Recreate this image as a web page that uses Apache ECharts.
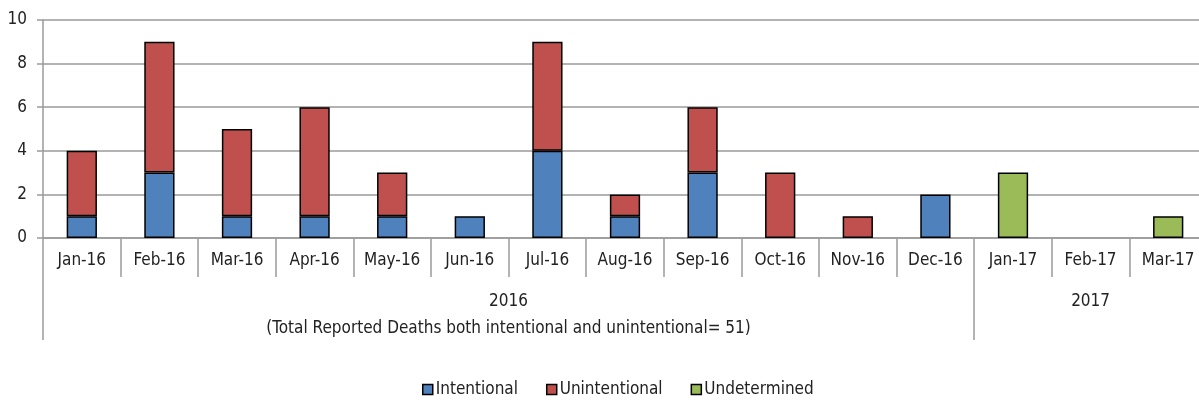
<!DOCTYPE html>
<html>
<head>
<meta charset="utf-8">
<script src="https://cdn.jsdelivr.net/npm/echarts@6/dist/echarts.min.js"></script>
<style>
html,body{margin:0;padding:0;background:#fff;overflow:hidden;width:1199px;height:400px;}
#c{width:1207px;height:400px;}
</style>
</head>
<body>
<div id="c"></div>
<script>
var categories = ['Jan-16','Feb-16','Mar-16','Apr-16','May-16','Jun-16','Jul-16','Aug-16','Sep-16','Oct-16','Nov-16','Dec-16','Jan-17','Feb-17','Mar-17'];
var intentional   = [1,3,1,1,1,1,4,1,3,0,0,2,0,0,0];
var unintentional = [3,6,4,5,2,0,5,1,3,3,1,0,0,0,0];
var undetermined  = [0,0,0,0,0,0,0,0,0,0,0,0,3,0,1];
var yTicks = [0,2,4,6,8,10];
var groupLabels = ['2016','(Total Reported Deaths both intentional and unintentional= 51)','2017'];

var FONT = '"Liberation Sans Narrow","Arial Narrow","DejaVu Sans Condensed",sans-serif';
var TXT = '#222';
var AX = '#9a9a9a';
function nz(a){return a.map(function(v){return v===0?null:v;});}

var chart = echarts.init(document.getElementById('c'));
var barStyle = function(c){return {color:c,borderColor:'#000',borderWidth:1.5};};
chart.setOption({
  animation:false,
  textStyle:{fontFamily:FONT},
  grid:{left:43,top:20,right:0,height:218,containLabel:false},
  legend:{
    left:422,bottom:2,padding:0,itemWidth:10,itemHeight:10,itemGap:28,
    icon:'rect',
    textStyle:{fontFamily:FONT,fontSize:17,color:TXT,padding:[0,0,0,-2]},
    itemStyle:{borderColor:'#000',borderWidth:1.5},
    data:['Intentional','Unintentional','Undetermined']
  },
  xAxis:[{
    type:'category',data:categories,position:'bottom',
    axisLine:{lineStyle:{color:AX,width:1.5}},
    axisTick:{show:true,interval:0,length:39,lineStyle:{color:AX,width:1.5}},
    axisLabel:{interval:0,margin:14,fontFamily:FONT,fontSize:17,color:TXT}
  },{
    type:'category',data:categories,position:'bottom',
    axisLine:{show:false},
    axisTick:{show:true,length:102,interval:function(i){return i===0||i===12;},lineStyle:{color:AX,width:1.5}},
    axisLabel:{
      interval:0,margin:50,fontFamily:FONT,fontSize:17,color:TXT,
      formatter:function(v,i){
        if(i===5) return '{a|'+groupLabels[0]+'}\n{a|'+groupLabels[1]+'}';
        if(i===13) return '{b|'+groupLabels[2]+'}';
        return '';
      },
      rich:{
        a:{fontFamily:FONT,fontSize:17,color:TXT,lineHeight:27,padding:[0,0,0,77.5]},
        b:{fontFamily:FONT,fontSize:17,color:TXT,lineHeight:27}
      }
    }
  }],
  yAxis:{
    type:'value',min:0,max:10,interval:2,
    axisLine:{show:true,lineStyle:{color:AX,width:1.5}},
    axisTick:{show:true,length:6,lineStyle:{color:AX,width:1.5}},
    splitLine:{lineStyle:{color:AX,width:1.5}},
    axisLabel:{margin:16,fontFamily:FONT,fontSize:17,color:TXT,
      formatter:function(v){return yTicks.indexOf(v)>=0?String(v):'';}}
  },
  series:[
    {name:'Intentional',type:'bar',stack:'t',barWidth:'39%',data:nz(intentional),itemStyle:barStyle('#4F81BD')},
    {name:'Unintentional',type:'bar',stack:'t',data:nz(unintentional),itemStyle:barStyle('#C0504D')},
    {name:'Undetermined',type:'bar',stack:'t',data:nz(undetermined),itemStyle:barStyle('#9BBB59')}
  ]
});
</script>
</body>
</html>
